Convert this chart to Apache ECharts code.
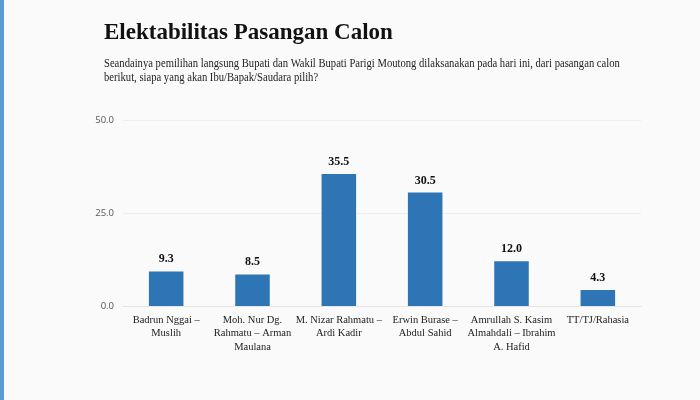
<!DOCTYPE html>
<html><head><meta charset="utf-8">
<script src="https://cdn.jsdelivr.net/npm/echarts@6/dist/echarts.min.js"></script>
<style>html,body{margin:0;padding:0;background:#fafafa;}#c{width:700px;height:400px;}</style>
</head><body><div id="c"></div>
<script>
const categories = ["Badrun Nggai –\nMuslih","Moh. Nur Dg.\nRahmatu – Arman\nMaulana","M. Nizar Rahmatu –\nArdi Kadir","Erwin Burase –\nAbdul Sahid","Amrullah S. Kasim\nAlmahdali – Ibrahim\nA. Hafid","TT/TJ/Rahasia"];
const values = [9.3, 8.5, 35.5, 30.5, 12.0, 4.3];
const yTicks = [0, 25, 50];
const titleText = "Elektabilitas Pasangan Calon";
const subtitleText = "Seandainya pemilihan langsung Bupati dan Wakil Bupati Parigi Moutong dilaksanakan pada hari ini, dari pasangan calon\nberikut, siapa yang akan Ibu/Bapak/Saudara pilih?";
const chart = echarts.init(document.getElementById('c'));
chart.setOption({
  backgroundColor: '#fafafa',
  animation: false,
  graphic: [
    {type:'rect', left:0, top:0, shape:{width:4, height:400}, style:{fill:'#5b9bd5'}},
    {type:'text', x:104, y:22, style:{text:titleText, font:'bold 23px "Liberation Serif"', fill:'#111'}},
    {type:'text', x:104, y:57, scaleX:0.885, style:{text:subtitleText, font:'12px "Liberation Serif"', fill:'#222', lineHeight:14}}
  ],
  grid: {left:123, right:59, top:120, bottom:94},
  xAxis: {
    type:'category', data: categories,
    axisLine:{lineStyle:{color:'#e6e6e6'}}, axisTick:{show:false},
    axisLabel:{interval:0, fontFamily:'Liberation Serif', fontSize:10.5, color:'#222', lineHeight:13.5, margin:7}
  },
  yAxis: {
    type:'value', min:0, max:50, interval:25,
    axisLabel:{formatter: v => yTicks.includes(v) ? v.toFixed(1) : '', fontFamily:'Open Sans', fontSize:9.5, color:'#555', margin:9},
    splitLine:{lineStyle:{color:'#eeeeee'}}, axisLine:{show:false}, axisTick:{show:false}
  },
  series: [{
    type:'bar', data: values, barWidth:'40%',
    itemStyle:{color:'#2e75b6'},
    label:{show:true, position:'top', formatter: p => p.value.toFixed(1), fontFamily:'Liberation Serif', fontWeight:'bold', fontSize:12, color:'#111', distance:6}
  }]
});
</script></body></html>
